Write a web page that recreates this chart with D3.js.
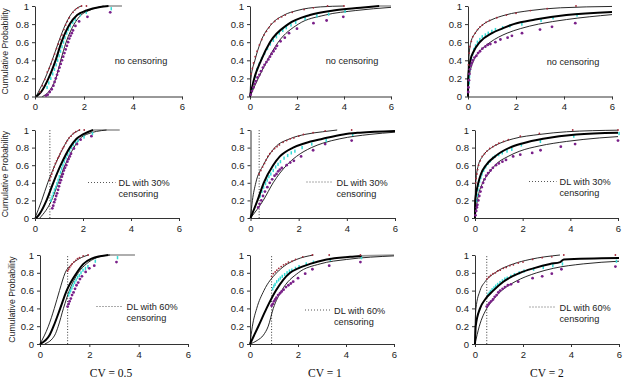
<!DOCTYPE html>
<html>
<head>
<meta charset="utf-8">
<script src="https://cdn.jsdelivr.net/npm/d3@7"></script>
<style>
  body { margin: 0; background: #fff; }
  svg { display: block; font-family: Arial, "Liberation Sans", sans-serif; }
</style>
</head>
<body>
<div id="chart"></div>
<script>
// tick values and labels
var probTicks = [0, 0.2, 0.4, 0.6, 0.8, 1];
var xTicks = [0, 2, 4, 6];
var cvLabels = ["CV = 0.5", "CV = 1", "CV = 2"];
var rowNotes = [["no censoring"], ["DL with 30%", "censoring"], ["DL with 60%", "censoring"]];
// detection limit per panel (row-major, null = none)
var detectionLimits = [null, null, null, 0.62, 0.36, null, 1.12, 0.9, 0.49];

// curves per panel, [x, cumulative probability], row-major
var upperLines = [
  [[0.05,0],[0.14,0.05],[0.41,0.2],[0.7,0.4],[0.96,0.6],[1.25,0.8],[1.45,0.9],[1.68,0.97],[1.9,1]],
  [[0,0],[0.04,0.2],[0.21,0.4],[0.45,0.6],[0.92,0.8],[1.45,0.9],[2.0,0.95],[3.0,0.99],[4.0,1]],
  [[0,0],[0.01,0.3],[0.03,0.4],[0.12,0.6],[0.3,0.7],[0.65,0.8],[1.0,0.85],[1.55,0.9],[2.6,0.95],[3.85,0.98],[6,0.995]],
  [[0,0],[0.28,0.2],[0.53,0.4],[0.83,0.6],[1.18,0.8],[1.39,0.9],[1.6,0.96],[1.87,1]],
  [[0,0],[0.08,0.2],[0.22,0.4],[0.53,0.6],[1.01,0.8],[1.63,0.9],[2.26,0.95],[3.0,0.98],[3.6,1]],
  [[0,0],[0.01,0.25],[0.03,0.4],[0.14,0.6],[0.32,0.7],[0.7,0.8],[1.05,0.85],[1.6,0.9],[2.72,0.95],[3.84,0.98],[6,0.998]],
  [[0,0],[0.34,0.2],[0.58,0.4],[0.79,0.6],[1.02,0.8],[1.3,0.9],[1.6,0.96],[1.96,1]],
  [[0,0],[0.1,0.2],[0.28,0.4],[0.58,0.6],[1.11,0.8],[1.56,0.9],[1.94,0.95],[2.64,1]],
  [[0,0],[0.01,0.25],[0.04,0.4],[0.21,0.6],[0.42,0.7],[0.83,0.8],[1.6,0.9],[2.29,0.95],[3.54,1]]
];
var meanLines = [
  [[0.05,0],[0.25,0.05],[0.55,0.2],[0.84,0.4],[1.08,0.6],[1.42,0.8],[1.72,0.9],[2.1,0.95],[2.66,0.99],[3.0,1]],
  [[0,0],[0.18,0.2],[0.47,0.4],[0.85,0.6],[1.63,0.8],[2.55,0.9],[3.55,0.95],[4.7,0.98],[5.5,1]],
  [[0,0],[0.01,0.2],[0.1,0.4],[0.24,0.5],[0.49,0.6],[1.0,0.7],[1.42,0.75],[1.9,0.8],[2.8,0.85],[4.1,0.9],[6,0.935]],
  [[0.05,0],[0.2,0.05],[0.48,0.2],[0.76,0.4],[1.07,0.6],[1.45,0.8],[1.73,0.9],[2.0,0.95],[2.42,1]],
  [[0,0],[0.29,0.2],[0.55,0.4],[0.94,0.6],[1.22,0.7],[1.77,0.8],[2.26,0.85],[3.0,0.9],[3.85,0.95],[4.54,0.97],[6,0.99]],
  [[0,0],[0.01,0.2],[0.14,0.4],[0.25,0.5],[0.46,0.6],[0.84,0.7],[1.46,0.8],[2.02,0.85],[2.86,0.9],[4.25,0.95],[6,0.97]],
  [[0,0],[0.39,0.1],[0.55,0.2],[0.82,0.4],[1.08,0.6],[1.49,0.8],[1.76,0.9],[2.09,0.96],[2.77,1]],
  [[0,0],[0.35,0.2],[0.69,0.4],[1.08,0.6],[1.67,0.8],[2.01,0.85],[2.5,0.9],[3.19,0.95],[4.17,0.98],[4.65,0.99]],
  [[0,0],[0.03,0.2],[0.21,0.4],[0.42,0.5],[0.76,0.6],[1.18,0.7],[1.88,0.8],[2.43,0.85],[3.13,0.9],[3.55,0.92],[3.7,0.95],[6,0.965]]
];
var lowerLines = [
  [[0.3,0],[0.55,0.05],[0.85,0.2],[1.05,0.4],[1.27,0.6],[1.6,0.8],[1.88,0.9],[2.2,0.95],[2.8,1]],
  [[0,0],[0.35,0.2],[0.74,0.4],[1.2,0.6],[2.06,0.8],[3.2,0.9],[4.5,0.95],[6,0.985]],
  [[0,0],[0.04,0.2],[0.24,0.4],[0.49,0.5],[0.93,0.6],[1.63,0.7],[2.18,0.75],[2.94,0.8],[4.1,0.85],[6,0.905]],
  [[0.2,0],[0.69,0.2],[0.97,0.4],[1.25,0.6],[1.62,0.8],[1.87,0.9],[2.15,0.95],[2.98,1]],
  [[0,0],[0.53,0.2],[0.94,0.4],[1.5,0.6],[1.91,0.7],[2.53,0.8],[3.0,0.85],[3.71,0.9],[4.96,0.95],[6,0.975]],
  [[0,0],[0.1,0.2],[0.32,0.4],[0.56,0.5],[0.84,0.6],[1.39,0.7],[1.88,0.76],[2.72,0.82],[3.84,0.87],[5.23,0.91],[6,0.925]],
  [[0.19,0],[0.6,0.1],[0.74,0.2],[0.95,0.4],[1.19,0.6],[1.55,0.8],[1.88,0.9],[2.3,0.97],[2.84,1]],
  [[0,0],[0.3,0.04],[0.56,0.1],[0.76,0.2],[0.97,0.4],[1.32,0.6],[2.01,0.8],[2.92,0.9],[4.03,0.95],[6,0.99]],
  [[0,0],[0.18,0.2],[0.49,0.4],[0.76,0.5],[1.11,0.6],[1.67,0.7],[2.57,0.8],[3.26,0.85],[4.51,0.9],[6,0.93]]
];
// grey continuation of the thick line
var greyTails = [
  [[2.95,1],[3.55,1]], [[5.5,1],[6,1]], [],
  [[2.42,1],[3.53,1]], [], [],
  [[2.77,1],[3.85,1]], [[4.65,0.99],[6,1]], []
];

// dot series per panel
var redDots = [
  [[0.2,0.05],[0.3,0.12],[0.4,0.19],[0.5,0.27],[0.58,0.31],[0.65,0.36],[0.72,0.41],[0.8,0.47],[0.88,0.53],[0.95,0.58],[1.02,0.63],[1.1,0.68],[1.18,0.74],[1.25,0.79],[1.32,0.83],[1.4,0.87],[1.55,0.93],[1.65,0.96],[1.75,0.98],[1.9,1],[2.1,1]],
  [[0.05,0.25],[0.1,0.31],[0.15,0.37],[0.22,0.44],[0.3,0.5],[0.4,0.57],[0.5,0.63],[0.6,0.68],[0.7,0.72],[0.8,0.76],[0.9,0.8],[1.05,0.83],[1.2,0.86],[1.35,0.88],[1.5,0.9],[1.8,0.93],[2.3,0.96],[2.7,0.98],[3.3,1],[4.0,1]],
  [[0.02,0.35],[0.05,0.48],[0.08,0.55],[0.14,0.61],[0.2,0.66],[0.3,0.7],[0.4,0.74],[0.5,0.77],[0.6,0.79],[0.75,0.82],[0.9,0.84],[1.2,0.87],[1.6,0.9],[2.0,0.92],[2.6,0.95],[3.3,0.97],[4.5,1]],
  [[0.62,0.43],[0.66,0.47],[0.7,0.5],[0.75,0.54],[0.8,0.58],[0.85,0.62],[0.9,0.65],[0.95,0.68],[1.0,0.7],[1.05,0.73],[1.1,0.76],[1.15,0.79],[1.2,0.81],[1.28,0.85],[1.35,0.88],[1.42,0.91],[1.5,0.93],[1.6,0.96],[1.7,0.98],[1.85,1],[2.05,1]],
  [[0.36,0.5],[0.43,0.54],[0.5,0.58],[0.58,0.62],[0.65,0.66],[0.72,0.7],[0.8,0.73],[0.9,0.76],[1.0,0.79],[1.1,0.81],[1.2,0.83],[1.35,0.86],[1.5,0.88],[1.65,0.9],[1.8,0.91],[2.0,0.93],[2.2,0.95],[2.6,0.97],[3.1,0.99],[4.2,1]],
  [[0.03,0.4],[0.05,0.45],[0.08,0.5],[0.11,0.55],[0.15,0.6],[0.22,0.65],[0.3,0.7],[0.4,0.73],[0.5,0.76],[0.62,0.79],[0.75,0.81],[0.88,0.83],[1.0,0.85],[1.2,0.87],[1.4,0.89],[1.9,0.93],[2.7,0.96],[4.1,1],[6,1]],
  [[1.12,0.82],[1.16,0.84],[1.2,0.86],[1.25,0.88],[1.3,0.9],[1.37,0.92],[1.45,0.94],[1.52,0.96],[1.6,0.97],[1.75,0.99],[1.95,1]],
  [[0.9,0.76],[0.97,0.79],[1.05,0.81],[1.12,0.83],[1.2,0.85],[1.3,0.87],[1.4,0.89],[1.5,0.9],[1.6,0.92],[1.75,0.93],[1.9,0.95],[2.2,0.98],[2.6,1],[3.3,1],[4.6,1]],
  [[0.49,0.73],[0.57,0.75],[0.65,0.77],[0.75,0.79],[0.85,0.8],[0.95,0.82],[1.05,0.83],[1.18,0.85],[1.3,0.86],[1.45,0.88],[1.6,0.89],[1.8,0.91],[2.0,0.92],[2.4,0.95],[2.8,0.97],[3.2,0.98],[3.7,1],[5.85,1]]
];
var cyanDots = [
  [[0.45,0.1],[0.52,0.15],[0.6,0.2],[0.68,0.25],[0.75,0.3],[0.82,0.35],[0.88,0.4],[0.94,0.45],[1.0,0.5],[1.06,0.55],[1.12,0.6],[1.18,0.65],[1.25,0.7],[1.32,0.74],[1.4,0.78],[1.5,0.82],[1.6,0.85],[1.8,0.9],[2.05,0.93],[3.07,0.97]],
  [[0.05,0.08],[0.1,0.15],[0.17,0.22],[0.25,0.3],[0.35,0.36],[0.45,0.42],[0.58,0.48],[0.7,0.53],[0.82,0.58],[0.95,0.62],[1.08,0.66],[1.2,0.7],[1.35,0.73],[1.5,0.76],[1.7,0.79],[1.9,0.82],[2.3,0.86],[2.8,0.89],[3.3,0.91],[4.0,0.94]],
  [[0.01,0.15],[0.02,0.22],[0.04,0.3],[0.07,0.36],[0.1,0.42],[0.15,0.47],[0.2,0.52],[0.27,0.56],[0.35,0.6],[0.45,0.63],[0.55,0.66],[0.68,0.68],[0.8,0.7],[0.95,0.72],[1.1,0.74],[1.4,0.76],[1.7,0.78],[2.2,0.8],[3.0,0.84],[3.5,0.87],[4.5,0.9]],
  [[0.62,0.2],[0.67,0.24],[0.72,0.28],[0.77,0.32],[0.82,0.35],[0.87,0.39],[0.92,0.43],[0.97,0.47],[1.02,0.52],[1.07,0.56],[1.12,0.6],[1.18,0.64],[1.25,0.68],[1.32,0.72],[1.4,0.76],[1.47,0.8],[1.55,0.83],[1.65,0.86],[1.75,0.88],[2.0,0.92],[2.35,0.96]],
  [[0.36,0.25],[0.43,0.3],[0.5,0.35],[0.58,0.39],[0.65,0.43],[0.72,0.47],[0.8,0.5],[0.9,0.54],[1.0,0.58],[1.1,0.61],[1.2,0.64],[1.35,0.68],[1.5,0.71],[1.65,0.74],[1.8,0.76],[2.1,0.8],[2.5,0.84],[3.1,0.88],[4.2,0.95]],
  [[0.03,0.2],[0.05,0.26],[0.08,0.32],[0.11,0.37],[0.15,0.42],[0.2,0.46],[0.25,0.5],[0.32,0.54],[0.4,0.58],[0.5,0.62],[0.6,0.65],[0.7,0.68],[0.8,0.7],[0.95,0.72],[1.1,0.74],[1.3,0.76],[1.5,0.78],[1.9,0.83],[2.7,0.87],[4.1,0.93],[6,0.96]],
  [[1.12,0.55],[1.16,0.58],[1.2,0.6],[1.25,0.63],[1.3,0.66],[1.36,0.69],[1.42,0.72],[1.48,0.75],[1.55,0.77],[1.62,0.8],[1.7,0.83],[1.8,0.85],[1.9,0.87],[2.2,0.93],[3.1,0.97]],
  [[0.9,0.62],[0.95,0.65],[1.0,0.67],[1.07,0.7],[1.15,0.72],[1.22,0.74],[1.3,0.76],[1.4,0.78],[1.5,0.8],[1.6,0.82],[1.7,0.83],[1.85,0.85],[2.0,0.87],[2.3,0.9],[2.6,0.92],[3.3,0.95],[4.6,0.97]],
  [[0.49,0.55],[0.55,0.57],[0.6,0.59],[0.67,0.61],[0.75,0.63],[0.82,0.65],[0.9,0.67],[1.0,0.69],[1.1,0.71],[1.2,0.73],[1.3,0.74],[1.45,0.76],[1.6,0.78],[1.8,0.8],[2.0,0.82],[2.4,0.84],[2.8,0.86],[3.2,0.88],[3.6,0.9],[5.85,0.93]]
];
var purpleDots = [
  [[0.45,0.01],[0.52,0.02],[0.6,0.05],[0.68,0.08],[0.75,0.12],[0.8,0.16],[0.85,0.2],[0.9,0.24],[0.95,0.28],[1.0,0.32],[1.05,0.36],[1.1,0.4],[1.15,0.44],[1.2,0.48],[1.25,0.52],[1.3,0.56],[1.35,0.6],[1.4,0.64],[1.45,0.67],[1.5,0.7],[1.55,0.73],[1.65,0.78],[1.8,0.83],[2.14,0.88],[3.07,0.93]],
  [[0.03,0.02],[0.08,0.06],[0.15,0.1],[0.2,0.14],[0.25,0.17],[0.32,0.21],[0.4,0.24],[0.47,0.28],[0.55,0.32],[0.62,0.35],[0.7,0.38],[0.78,0.41],[0.85,0.44],[0.92,0.47],[1.0,0.5],[1.08,0.53],[1.15,0.56],[1.3,0.61],[1.48,0.65],[1.66,0.7],[2.0,0.75],[2.7,0.81],[3.26,0.84],[3.97,0.88]],
  [[0.01,0.05],[0.02,0.1],[0.04,0.18],[0.06,0.25],[0.08,0.3],[0.12,0.34],[0.16,0.37],[0.2,0.4],[0.27,0.43],[0.35,0.45],[0.42,0.48],[0.5,0.5],[0.6,0.53],[0.72,0.55],[0.82,0.57],[0.93,0.58],[1.14,0.6],[1.35,0.63],[1.65,0.65],[1.83,0.67],[2.25,0.7],[3.0,0.74],[3.5,0.77],[4.47,0.81]],
  [[0.72,0.11],[0.76,0.14],[0.8,0.18],[0.84,0.21],[0.88,0.25],[0.92,0.28],[0.96,0.32],[1.0,0.36],[1.04,0.4],[1.08,0.43],[1.12,0.47],[1.16,0.5],[1.2,0.54],[1.25,0.57],[1.3,0.6],[1.35,0.64],[1.4,0.67],[1.45,0.7],[1.5,0.73],[1.62,0.79],[1.75,0.84],[1.9,0.89],[2.35,0.93]],
  [[0.32,0.12],[0.38,0.16],[0.45,0.2],[0.52,0.25],[0.6,0.3],[0.7,0.35],[0.8,0.4],[0.9,0.44],[1.0,0.48],[1.08,0.5],[1.15,0.53],[1.22,0.55],[1.3,0.57],[1.5,0.6],[1.65,0.63],[1.8,0.65],[2.1,0.7],[2.6,0.77],[3.1,0.84],[4.2,0.88]],
  [[0.02,0.03],[0.05,0.08],[0.08,0.12],[0.1,0.15],[0.14,0.2],[0.18,0.25],[0.23,0.3],[0.28,0.35],[0.34,0.4],[0.4,0.44],[0.47,0.48],[0.55,0.51],[0.65,0.54],[0.75,0.57],[0.88,0.6],[1.0,0.62],[1.15,0.64],[1.3,0.66],[1.6,0.7],[1.9,0.72],[2.4,0.74],[2.75,0.77],[3.6,0.81],[4.2,0.84],[6,0.88]],
  [[1.12,0.42],[1.16,0.45],[1.2,0.48],[1.25,0.51],[1.3,0.55],[1.36,0.58],[1.42,0.62],[1.48,0.66],[1.55,0.69],[1.62,0.73],[1.7,0.76],[1.85,0.81],[2.0,0.85],[2.2,0.88],[3.1,0.92]],
  [[0.9,0.43],[0.95,0.45],[1.0,0.48],[1.05,0.5],[1.1,0.52],[1.17,0.55],[1.25,0.57],[1.32,0.59],[1.4,0.61],[1.5,0.64],[1.6,0.66],[1.7,0.68],[1.8,0.7],[2.0,0.74],[2.3,0.79],[2.6,0.84],[3.3,0.88],[4.6,0.92]],
  [[0.49,0.42],[0.55,0.44],[0.6,0.46],[0.67,0.48],[0.75,0.5],[0.82,0.53],[0.9,0.55],[0.97,0.58],[1.05,0.6],[1.15,0.62],[1.25,0.64],[1.37,0.66],[1.5,0.67],[1.8,0.7],[2.4,0.74],[2.8,0.76],[3.2,0.79],[3.6,0.84],[5.85,0.87]]
];

// layout
var W = 633, H = 382;
var rowBox = [{ top: 6, bottom: 96.5 }, { top: 130, bottom: 218 }, { top: 255, bottom: 344 }];
var colBox = [
  [[35, 182], [250, 391], [468, 612]],
  [[35, 179], [250.5, 395], [475, 618]],
  [[40, 188], [250, 394], [475, 619]]
];
// note placement: [text x, first baseline, dotted line start (or null)]
var notePos = [
  [[141, 64, null], [352, 64, null], [573, 65, null]],
  [[118.5, 186, 88], [336.5, 185.5, 306.5], [559.5, 185, 529]],
  [[126.5, 310, 96.5], [334, 313.5, 305], [559.5, 310.5, 529.5]]
];
var yTitleX = [8, 8, 15];
var cvX = [111, 325, 547];

var svg = d3.select("#chart").append("svg")
    .attr("width", W)
    .attr("height", H);

for (var r = 0; r < 3; r++) {
    for (var c = 0; c < 3; c++) {
        drawPanel(r, c, r * 3 + c);
    }
    // y title on the first column
    svg.append("text")
        .attr("transform", "translate(" + yTitleX[r] + "," + ((rowBox[r].top + rowBox[r].bottom) / 2) + ") rotate(-90)")
        .attr("text-anchor", "middle")
        .style("font-size", "8.7px")
        .style("fill", "#222")
        .text("Cumulative Probability");
}

cvLabels.forEach(function (t, i) {
    svg.append("text")
        .attr("x", cvX[i])
        .attr("y", 377)
        .attr("text-anchor", "middle")
        .style("font-family", "'Times New Roman', 'Liberation Serif', serif")
        .style("font-size", "11.5px")
        .style("fill", "#111")
        .text(t);
});

function drawPanel(r, c, k) {
    var x = d3.scaleLinear().domain([0, 6]).range(colBox[r][c]);
    var y = d3.scaleLinear().domain([0, 1]).range([rowBox[r].bottom, rowBox[r].top]);
    var g = svg.append("g");

    var xAxis = g.append("g")
        .attr("transform", "translate(0," + rowBox[r].bottom + ")")
        .call(d3.axisBottom(x).tickValues(xTicks).tickFormat(d3.format("~g"))
            .tickSize(3).tickSizeOuter(0).tickPadding(4));
    var yAxis = g.append("g")
        .attr("transform", "translate(" + colBox[r][c][0] + ",0)")
        .call(d3.axisLeft(y).tickValues(probTicks).tickFormat(d3.format("~g"))
            .tickSize(3).tickSizeOuter(0).tickPadding(3));
    [xAxis, yAxis].forEach(function (a) {
        a.select(".domain").attr("stroke", "#333");
        a.selectAll(".tick line").attr("stroke", "#333");
        a.selectAll("text").style("font-size", "9.5px").style("font-family", "Arial, 'Liberation Sans', sans-serif").attr("fill", "#222");
    });

    var line = d3.line()
        .x(function (d) { return x(d[0]); })
        .y(function (d) { return y(d[1]); })
        .curve(d3.curveMonotoneX);

    // detection limit
    if (detectionLimits[k] !== null) {
        g.append("line")
            .attr("x1", x(detectionLimits[k])).attr("x2", x(detectionLimits[k]))
            .attr("y1", y(0)).attr("y2", y(1))
            .attr("stroke", "#222")
            .attr("stroke-width", 0.9)
            .attr("stroke-dasharray", "1,1.8");
    }

    if (greyTails[k].length) {
        g.append("path").datum(greyTails[k])
            .attr("d", line).attr("fill", "none")
            .attr("stroke", "#9a9a9a").attr("stroke-width", 1.6);
    }
    [upperLines[k], lowerLines[k]].forEach(function (data) {
        g.append("path").datum(data)
            .attr("d", line).attr("fill", "none")
            .attr("stroke", "#111").attr("stroke-width", 0.9);
    });

    g.selectAll(".cyan").data(cyanDots[k]).enter().append("rect")
        .attr("x", function (d) { return x(d[0]) + 0.3; })
        .attr("y", function (d) { return y(d[1]) - 1.6; })
        .attr("width", 1.5).attr("height", 3.2)
        .attr("fill", "#35dcd6");

    g.append("path").datum(meanLines[k])
        .attr("d", line).attr("fill", "none")
        .attr("stroke", "#000").attr("stroke-width", 2);

    g.selectAll(".red").data(redDots[k]).enter().append("circle")
        .attr("cx", function (d) { return x(d[0]); })
        .attr("cy", function (d) { return y(d[1]); })
        .attr("r", 0.9)
        .attr("fill", "#a32a3a");
    g.selectAll(".purple").data(purpleDots[k]).enter().append("circle")
        .attr("cx", function (d) { return x(d[0]); })
        .attr("cy", function (d) { return y(d[1]); })
        .attr("r", 1.4)
        .attr("fill", "#7a2089");

    // note text
    var p = notePos[r][c];
    rowNotes[r].forEach(function (t, i) {
        g.append("text")
            .attr("x", p[0])
            .attr("y", p[1] + i * 11)
            .attr("text-anchor", p[2] === null ? "middle" : "start")
            .style("font-size", "9.2px")
            .style("fill", "#222")
            .text(t);
    });
    if (p[2] !== null) {
        g.append("line")
            .attr("x1", p[2]).attr("x2", p[0] - 3)
            .attr("y1", p[1] - 3.5).attr("y2", p[1] - 3.5)
            .attr("stroke", "#444")
            .attr("stroke-width", 0.9)
            .attr("stroke-dasharray", "1,2");
    }
}
</script>
</body>
</html>
